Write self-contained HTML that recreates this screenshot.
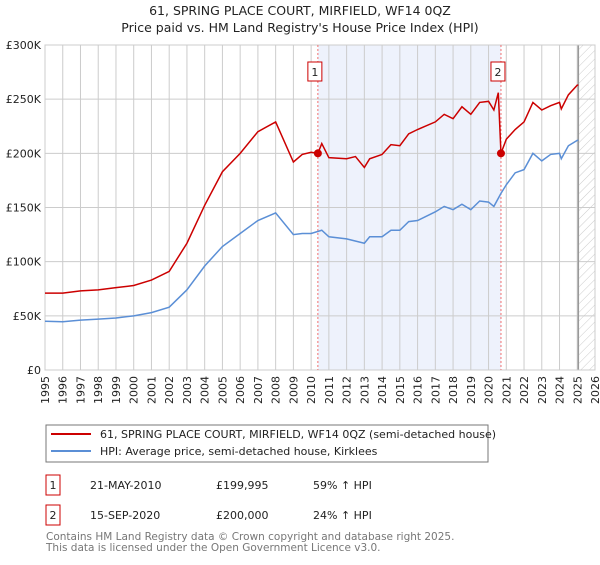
<!DOCTYPE html>
<html><head><meta charset="utf-8"><style>
body{margin:0;background:#fff;font-family:"Liberation Sans","DejaVu Sans",sans-serif;}
svg text{font-family:"DejaVu Sans","Liberation Sans",sans-serif;}
</style></head><body>
<svg id="c" width="600" height="560" viewBox="0 0 600 560" xmlns="http://www.w3.org/2000/svg">
<defs><pattern id="hatch" width="6" height="6" patternUnits="userSpaceOnUse" patternTransform="rotate(45)"><line x1="0" y1="0" x2="0" y2="6" stroke="#ccc" stroke-width="1"/></pattern></defs>
<text x="300" y="15" text-anchor="middle" font-size="12.5" fill="#222">61, SPRING PLACE COURT, MIRFIELD, WF14 0QZ</text>
<text x="300" y="32" text-anchor="middle" font-size="12.5" fill="#222">Price paid vs. HM Land Registry's House Price Index (HPI)</text>
<g id="grid"></g><g id="marks"></g>
<rect x="46" y="425" width="442" height="37" fill="#fff" stroke="#777"/>
<line x1="51" y1="434" x2="91" y2="434" stroke="#cc0000" stroke-width="2"/>
<text x="100" y="438" font-size="11" fill="#222">61, SPRING PLACE COURT, MIRFIELD, WF14 0QZ (semi-detached house)</text>
<line x1="51" y1="451" x2="91" y2="451" stroke="#5b8fd6" stroke-width="2"/>
<text x="100" y="455" font-size="11" fill="#222">HPI: Average price, semi-detached house, Kirklees</text>
<g>
<rect x="46" y="475" width="14" height="20" fill="#fff" stroke="#cc0000"/>
<text x="53" y="489" text-anchor="middle" font-size="11" fill="#222">1</text>
<text x="90" y="489" font-size="11" fill="#222">21-MAY-2010</text>
<text x="216" y="489" font-size="11" fill="#222">£199,995</text>
<text x="313" y="489" font-size="11" fill="#222">59% ↑ HPI</text></g>
<g>
<rect x="46" y="505" width="14" height="20" fill="#fff" stroke="#cc0000"/>
<text x="53" y="519" text-anchor="middle" font-size="11" fill="#222">2</text>
<text x="90" y="519" font-size="11" fill="#222">15-SEP-2020</text>
<text x="216" y="519" font-size="11" fill="#222">£200,000</text>
<text x="313" y="519" font-size="11" fill="#222">24% ↑ HPI</text></g>
<text x="46" y="540" font-size="10.5" fill="#777">Contains HM Land Registry data © Crown copyright and database right 2025.</text>
<text x="46" y="551" font-size="10.5" fill="#777">This data is licensed under the Open Government Licence v3.0.</text>
</svg>
<script>
const yTicks=[0,50000,100000,150000,200000,250000,300000];
const yTickLabels=["£0","£50K","£100K","£150K","£200K","£250K","£300K"];
const years=[1995,1996,1997,1998,1999,2000,2001,2002,2003,2004,2005,2006,2007,2008,2009,2010,2011,2012,2013,2014,2015,2016,2017,2018,2019,2020,2021,2022,2023,2024,2025,2026];
const priceT=[1995,1996,1997,1998,1999,2000,2001,2002,2003,2004,2005,2006,2007,2008,2009,2009.5,2010,2010.38,2010.6,2011,2012,2012.5,2013,2013.3,2014,2014.5,2015,2015.5,2016,2017,2017.5,2018,2018.5,2019,2019.5,2020,2020.3,2020.55,2020.7,2021,2021.5,2022,2022.5,2023,2023.5,2024,2024.1,2024.5,2025,2025.06];
const priceV=[71000,71000,73000,74000,76000,78000,83000,91000,117000,152000,183000,200000,220000,229000,192000,199000,201000,199995,209000,196000,195000,197000,187000,195000,199000,208000,207000,218000,222000,229000,236000,232000,243000,236000,247000,248000,240000,256000,200000,213000,222000,229000,247000,240000,244000,247000,241000,254000,263000,263000];
const hpiT=[1995,1996,1997,1998,1999,2000,2001,2002,2003,2004,2005,2006,2007,2008,2009,2009.5,2010,2010.6,2011,2012,2013,2013.3,2014,2014.5,2015,2015.5,2016,2017,2017.5,2018,2018.5,2019,2019.5,2020,2020.3,2020.7,2021,2021.5,2022,2022.5,2023,2023.5,2024,2024.1,2024.5,2025,2025.06];
const hpiV=[45000,44500,46000,47000,48000,50000,53000,58000,74000,96000,114000,126000,138000,145000,125000,126000,126000,129000,123000,121000,117000,123000,123000,129000,129000,137000,138000,146000,151000,148000,153000,148000,156000,155000,151000,163000,171000,182000,185000,200000,193000,199000,200000,195000,207000,212000,212000];
const saleT=[2010.38,2020.7];
const saleV=[199995,200000];
const dataEnd=2025.06;
const L=45,R=595,T=45,B=370,X0=1995,X1=2026,YMAX=300000;
const xs=t=>L+(t-X0)/(X1-X0)*(R-L);
const ys=v=>B-v/YMAX*(B-T);
const NS="http://www.w3.org/2000/svg";
function mk(p,tag,at){const e=document.createElementNS(NS,tag);for(const k in at)e.setAttribute(k,at[k]);p.appendChild(e);return e;}
const g=document.getElementById('grid'),m=document.getElementById('marks');
let sh=mk(g,'rect',{x:xs(saleT[0]),y:T,width:xs(saleT[1])-xs(saleT[0]),height:B-T,fill:'#eef2fc'});


let ht=mk(g,'rect',{x:xs(dataEnd),y:T,width:R-xs(dataEnd),height:B-T,fill:'url(#hatch)'});


yTicks.forEach((v,i)=>{
 const l=mk(g,'line',{x1:L,x2:R,y1:ys(v),y2:ys(v),stroke:'#ccc'});
 
 
 const t=mk(g,'text',{x:L-4,y:ys(v)+4,'text-anchor':'end','font-size':'11',fill:'#222'});
 t.textContent=yTickLabels[i];
 
 
});
years.forEach(y=>{
 const l=mk(g,'line',{x1:xs(y),x2:xs(y),y1:T,y2:B,stroke:'#ccc'});
 
 
 const t=mk(g,'text',{x:0,y:0,'text-anchor':'end','font-size':'11',fill:'#222',transform:`translate(${xs(y)+4},${B+6}) rotate(-90)`});
 t.textContent=y;
 
 
});
let de=mk(g,'line',{x1:xs(dataEnd),x2:xs(dataEnd),y1:T,y2:B,stroke:'#999','stroke-width':1.5});


let fr=mk(g,'rect',{x:L,y:T,width:R-L,height:B-T,fill:'none',stroke:'#ccc'});


saleT.forEach((t,i)=>{
 const l=mk(m,'line',{x1:xs(t),x2:xs(t),y1:T,y2:B,stroke:'#f07070','stroke-dasharray':'2,2'});
 
 
});
const hp=mk(m,'polyline',{points:hpiT.map((t,i)=>xs(t)+','+ys(hpiV[i])).join(' '),fill:'none',stroke:'#5b8fd6','stroke-width':1.5});


const pp=mk(m,'polyline',{points:priceT.map((t,i)=>xs(t)+','+ys(priceV[i])).join(' '),fill:'none',stroke:'#cc0000','stroke-width':1.5});


saleT.forEach((t,i)=>{
 const c=mk(m,'circle',{cx:xs(t),cy:ys(saleV[i]),r:4,fill:'#cc0000'});
 
 
 const bx=mk(m,'rect',{x:xs(t)-10,y:62,width:14,height:19,fill:'#fff',stroke:'#cc0000'});
 
 
 const tx=mk(m,'text',{x:xs(t)-3,y:76,'text-anchor':'middle','font-size':'11',fill:'#222'});
 tx.textContent=i+1;
 
 
});
</script>
</body></html>
